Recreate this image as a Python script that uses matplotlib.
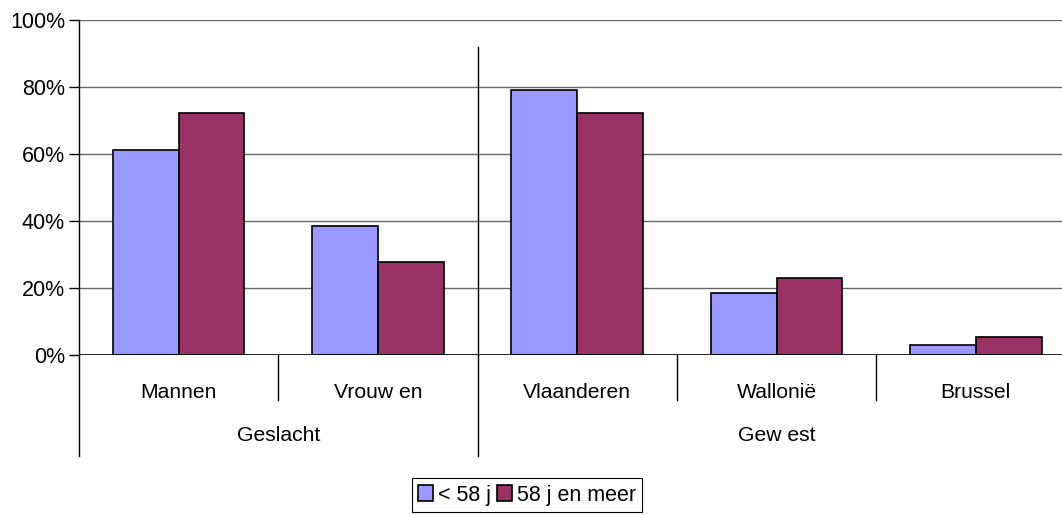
import matplotlib
matplotlib.use("Agg")
import matplotlib.pyplot as plt
import numpy as np
from matplotlib.ticker import PercentFormatter

# data
categories = ['Mannen', 'Vrouw en', 'Vlaanderen', 'Wallonië', 'Brussel']
groups = ['Geslacht', 'Gew est']
group_centers = [0.5, 3.0]
under_58 = [0.612, 0.385, 0.791, 0.185, 0.030]
from_58 = [0.722, 0.278, 0.722, 0.230, 0.054]
series_labels = ['< 58 j', '58 j en meer']

plt.rcParams['font.family'] = ['Liberation Sans', 'DejaVu Sans']

fig = plt.figure(figsize=(10.62, 5.15), dpi=100)
W, H = 1062, 515
# plot area runs a bit past the right edge of the picture
ax = fig.add_axes([79 / W, 160 / H, (1075.5 - 79) / W, 335 / H])

x = np.arange(len(categories))
bw = 0.33
b1 = ax.bar(x - bw / 2, under_58, bw, color='#9999FF', edgecolor='black', linewidth=1.2, zorder=3,
            label=series_labels[0])
b2 = ax.bar(x + bw / 2, from_58, bw, color='#993366', edgecolor='black', linewidth=1.2, zorder=3,
            label=series_labels[1])

ax.set_xlim(-0.5, len(categories) - 0.5)
ax.set_ylim(0, 1)
ax.set_yticks(np.arange(0, 1.01, 0.2))
ax.yaxis.set_major_formatter(PercentFormatter(1.0, decimals=0))
ax.tick_params(axis='y', labelsize=15.5, length=7, width=1, color='black', direction='out', pad=3)
ax.set_xticks([])
ax.grid(axis='y', color='#666666', linewidth=1, zorder=0)
for s in ['top', 'right', 'bottom']:
    ax.spines[s].set_visible(False)
ax.spines['left'].set_linewidth(1)
ax.axhline(0, color='black', linewidth=1.2, zorder=4)

# separator between the two groups inside the plot
tr = ax.get_xaxis_transform()
ax.plot([1.5, 1.5], [0, 0.92], transform=tr, color='black', linewidth=1, clip_on=False)

# category axis with group level
for b in [0.5, 2.5, 3.5]:
    ax.plot([b, b], [0, -0.134], transform=tr, color='black', linewidth=1, clip_on=False)
for b in [-0.5, 1.5]:
    ax.plot([b, b], [0, -0.30], transform=tr, color='black', linewidth=1, clip_on=False)
for xi, lab in zip(x, categories):
    ax.text(xi, -0.113, lab, transform=tr, ha='center', va='center', fontsize=15.2)
for xc, lab in zip(group_centers, groups):
    ax.text(xc, -0.239, lab, transform=tr, ha='center', va='center', fontsize=15.2)

leg = fig.legend(handles=[b1, b2], loc='center', bbox_to_anchor=(527 / W, 1 - 495 / H),
                 ncol=2, fontsize=15.5, frameon=True, fancybox=False, framealpha=1,
                 edgecolor='black', handlelength=0.7, handleheight=0.7,
                 handletextpad=0.2, columnspacing=0.3, borderpad=0.3, borderaxespad=0)
leg.get_frame().set_linewidth(0.8)

fig.savefig('out.png', dpi=100)
